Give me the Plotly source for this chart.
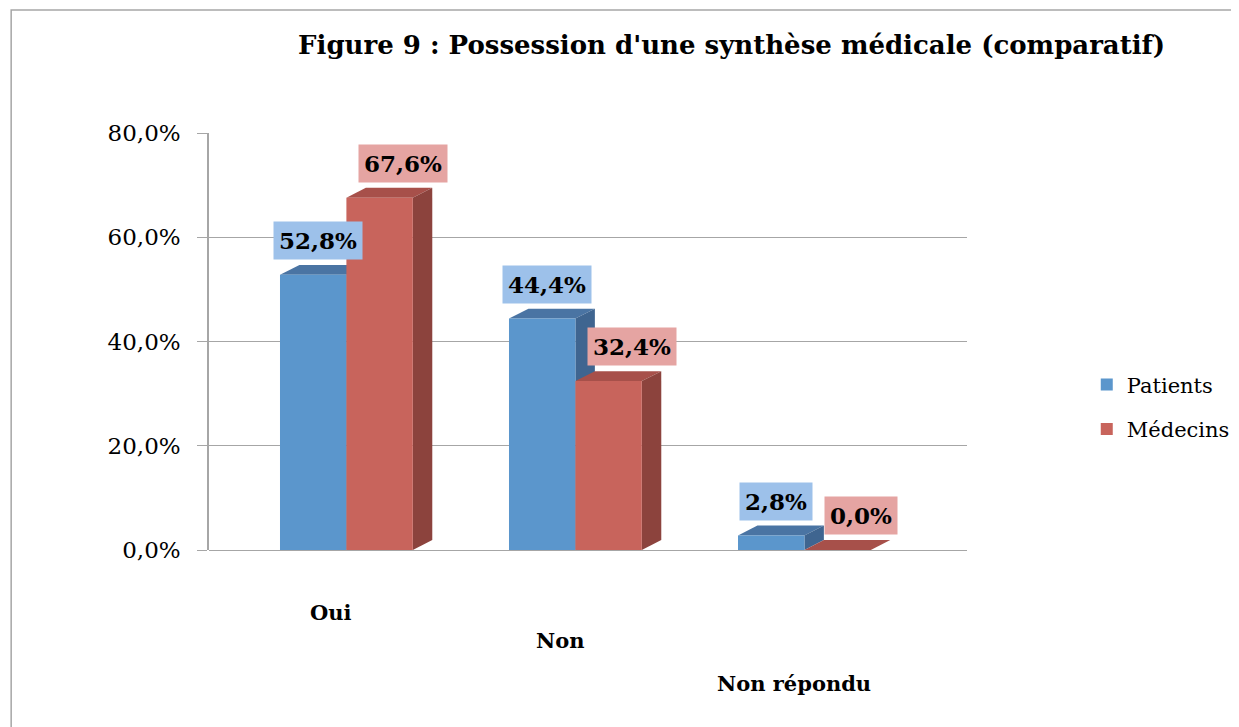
import plotly.graph_objects as go

categories = ["Oui", "Non", "Non répondu"]
patients = [0.528, 0.444, 0.028]
medecins = [0.676, 0.324, 0.0]
series_names = ["Patients", "Médecins"]
y_ticks = [0.0, 0.2, 0.4, 0.6, 0.8]

FONT = "DejaVu Serif"
front = ["#5b96cc", "#c8645c"]
topc = ["#4a74a3", "#a7504a"]
sidec = ["#3f6590", "#8c433d"]
labelbg = ["#9dc1ea", "#e5a4a2"]

W = 0.29          # bar width (category units)
DX = 0.085        # depth offset in x (category units)
DY = 0.019        # depth offset in y (data units)

xs = list(range(len(categories)))
fig = go.Figure()
offsets = [-W, 0.0]
for k, (name, vals) in enumerate(zip(series_names, [patients, medecins])):
    fig.add_trace(go.Bar(
        x=xs, y=vals, name=name, width=W, offset=offsets[k],
        marker=dict(color=front[k], line=dict(width=0)),
        legendgroup=name,
    ))

shapes = []
annotations = []
for k, vals in enumerate([patients, medecins]):
    for i, v in enumerate(vals):
        x0 = xs[i] + offsets[k]
        x1 = x0 + W
        # top face
        shapes.append(dict(
            type="path", xref="x", yref="y", layer="between",
            path=f"M {x0},{v} L {x1},{v} L {x1+DX},{v+DY} L {x0+DX},{v+DY} Z",
            fillcolor=topc[k], line=dict(width=0)))
        # side face
        shapes.append(dict(
            type="path", xref="x", yref="y", layer="between",
            path=f"M {x1},0 L {x1+DX},{DY} L {x1+DX},{v+DY} L {x1},{v} Z",
            fillcolor=sidec[k], line=dict(width=0)))
        annotations.append(dict(
            x=(x0 + x1) / 2 + DX / 2, y=v + DY, xref="x", yref="y",
            text=f"<b>{v*100:.1f}%</b>".replace(".", ","),
            showarrow=False, yanchor="bottom", yshift=5,
            xshift=-5 if k == 0 else 14,
            bgcolor=labelbg[k], borderpad=5,
            font=dict(family=FONT, size=23, color="black")))

# category labels (staggered like the perspective view)
cat_shift = [-62, -90, -133]
cat_xshift = [-15, -15, -10]
for i, c in enumerate(categories):
    annotations.append(dict(
        x=xs[i], y=0, xref="x", yref="paper", text=f"<b>{c}</b>",
        showarrow=False, yanchor="middle", yshift=cat_shift[i], xshift=cat_xshift[i],
        font=dict(family=FONT, size=21, color="black")))

# outer chart border
shapes.append(dict(type="rect", xref="paper", yref="paper",
                   x0=-0.261, y0=-0.6, x1=1.6, y1=1.295,
                   line=dict(color="#a6a6a6", width=1.5), layer="below"))

fig.update_layout(
    width=1239, height=727,
    margin=dict(l=201, r=273, t=125, b=185),
    paper_bgcolor="white", plot_bgcolor="white",
    separators=", ",
    title=dict(text="<b>Figure 9 : Possession d'une synthèse médicale (comparatif)</b>",
               x=0.584, xanchor="center", y=0.949, yanchor="middle",
               font=dict(family=FONT, size=26, color="black")),
    xaxis=dict(range=[-0.6, 2.71], showticklabels=False, showgrid=False,
               zeroline=False, showline=False, ticks=""),
    yaxis=dict(range=[0, 0.8], tickvals=y_ticks, tickformat=".1%",
               showgrid=True, gridcolor="#a6a6a6", gridwidth=1.2,
               zeroline=True, zerolinecolor="#a6a6a6", zerolinewidth=1.2,
               showline=True, linecolor="#a6a6a6", linewidth=1.5,
               ticks="outside", ticklen=10, tickcolor="#a6a6a6",
               ticklabelstandoff=12,
               tickfont=dict(family=FONT, size=23, color="black")),
    legend=dict(x=1.158, xanchor="left", y=0.343, yanchor="middle",
                font=dict(family=FONT, size=21, color="black"),
                tracegroupgap=14, bgcolor="rgba(0,0,0,0)"),
    shapes=shapes, annotations=annotations,
    showlegend=True,
)

fig.write_html("out.html")
